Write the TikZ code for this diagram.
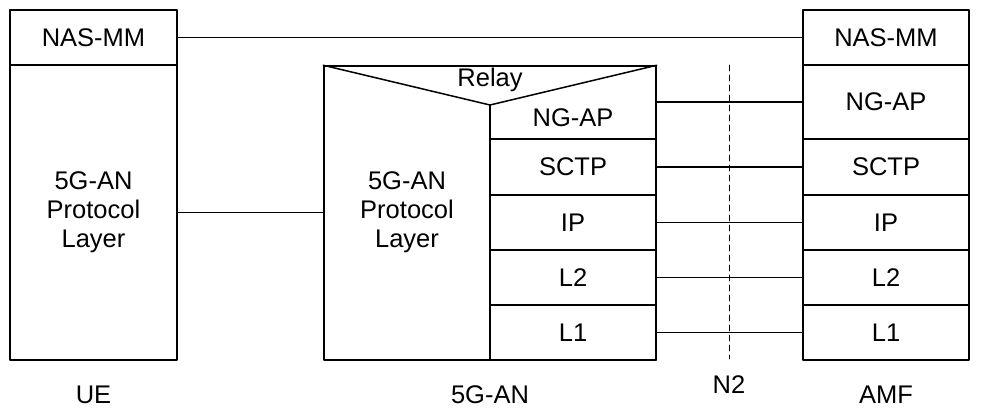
\documentclass[tikz,border=0pt]{standalone}
\usepackage{fontspec}
\setmainfont{Liberation Sans}
\begin{document}
\begin{tikzpicture}[x=1pt,y=-1pt, line join=round, line cap=round,
	font=\fontsize{25.5}{29}\selectfont,
	layer/.style={draw, line width=1.5pt, minimum width=166pt, inner sep=0pt, align=center},
	link/.style={line width=1.4pt}]
	\useasboundingbox (0,0) rectangle (981,413);
	\def\xue{93.5} \def\xan{573} \def\xamf{886} % Tâm các cột
	% UE
	\node[layer, minimum width=167pt, minimum height=55pt] (uenas) at (\xue,37.5) {NAS-MM};
	\node[layer, minimum width=167pt, minimum height=295pt] (uepl) at (\xue,212.5) {5G-AN\\Protocol\\Layer};
	% 5G-AN
	\node[layer, minimum width=332pt, minimum height=294pt] (an) at (490,213) {};
	\coordinate (relay) at (490,105);
	\draw[line width=1.5pt] (an.north west) -- (relay) -- (an.north east);
	\draw[line width=1.5pt] (relay) -- (490,360);
	\node[anchor=base] at (490,86) {Relay};
	\node[align=center] (anpl) at (407,212) {5G-AN\\Protocol\\Layer};
	\node (anngap) at (\xan,117.5) {NG-AP};
	% AMF
	\node[layer, minimum height=55pt] (amfnas) at (\xamf,37.5) {NAS-MM};
	\node[layer, minimum height=74pt] (amfngap) at (\xamf,102) {NG-AP};
	\foreach \n/\t/\y/\h in {sctp/SCTP/167/56, ip/IP/222.5/55, l2/L2/277.5/55, l1/L1/332.5/55}{
		\node[layer, minimum height=\h pt] (an\n) at (\xan,\y) {\t};
		\node[layer, minimum height=\h pt] (amf\n) at (\xamf,\y) {\t};
		\draw[link] (an\n) -- (amf\n);
	}
	% Các đường nối
	\draw[link] (uenas) -- (amfnas);
	\draw[link] (uepl.east) -- (an.west |- uepl.east);
	\draw[link] (amfngap.west) -- (an.east |- amfngap.west);
	% N2
	\coordinate (n2top) at (729,65);
	\coordinate (n2bot) at (729,359);
	\draw[line width=0.9pt, dash pattern=on 6pt off 4pt] (n2top) -- (n2bot);
	\node (n2) at (729,385) {N2};
	\node (ue) at (\xue,395) {UE};
	\node (gan) at (490,395) {5G-AN};
	\node (amf) at (\xamf,395) {AMF};
\end{tikzpicture}
\end{document}
